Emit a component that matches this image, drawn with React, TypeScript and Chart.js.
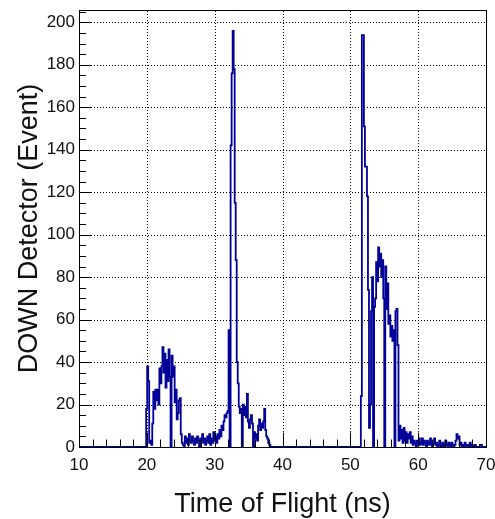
import React, { useEffect, useRef } from "react";
import { Chart, registerables } from "chart.js";

Chart.register(...registerables);

// ---- axis ranges & labels ----
const xMin = 10;
const xMax = 70;
const binWidth = 0.15;
const yMin = 0;
const yMax = 205.8;
const xTicks = [10, 20, 30, 40, 50, 60, 70];
const yTicks = [0, 20, 40, 60, 80, 100, 120, 140, 160, 180, 200];
const xMinorStep = 2;
const yMinorStep = 5;
const xTitle = "Time of Flight (ns)";
const yTitle = "DOWN Detector (Event)";

// ---- histogram contents (counts per 0.15 ns bin), all other bins are empty ----
const earlyStart = 19.9;
const earlyCounts = [
  18, 38, 31, 2, 3, 1, 11, 26, 18, 27,
  22, 27, 20, 37, 30, 38, 47, 35, 44, 28,
  41, 31, 46, 33, 0, 43, 33, 38, 21, 27,
  13, 16, 22, 23, 6, 2, 1, 0, 5, 2,
  4, 1, 6, 3, 2, 5, 3, 1, 4, 2,
  5, 3, 0, 4, 3, 6, 2, 4, 1, 3,
  5, 2, 6, 1, 4, 2, 7, 3, 5, 2,
  6, 4, 8, 5, 10, 8, 12, 15, 14, 16,
  17, 55, 0, 142, 176, 196, 178, 115, 88, 40,
  30, 19, 16, 18, 0, 20, 15, 19, 14, 25,
  12, 9, 13, 15, 11, 0, 7, 4, 6, 3,
  10, 13, 8, 11, 9, 12, 18, 8, 5, 4,
  2, 1,
];

const lateStart = 51.55;
const lateCounts = [
  24, 194, 194, 151, 132, 132, 118, 74, 9, 20,
  64, 80, 0, 66, 70, 87, 78, 94, 85, 91,
  80, 88, 70, 0, 85, 65, 77, 58, 62, 52,
  57, 50, 55, 0, 64, 65, 48, 3, 10, 4,
  8, 2, 9, 3, 7, 2, 6, 4, 7, 2,
  5, 1, 3, 2, 0, 3, 1, 4, 1, 2,
  4, 1, 3, 2, 0, 3, 1, 2, 4, 1,
  0, 2, 4, 1, 2, 0, 1, 3, 0, 1,
  2, 0, 1, 3, 1, 0, 2, 1, 0, 2,
  1, 0, 1, 3, 6, 4, 5, 1, 2, 0,
  1, 0, 2, 1, 0, 1, 0, 2, 0, 1,
  0, 0, 1, 0, 0, 0, 0, 1, 1, 0,
];

const FONT = "'Liberation Sans', Arial, Helvetica, sans-serif";
const LINE_COLOR = "#000099";

function buildHistogram() {
  const nBins = Math.round((xMax - xMin) / binWidth);
  const counts: number[] = new Array(nBins).fill(0);
  const place = (start: number, vals: number[]) => {
    const off = Math.round((start - xMin) / binWidth);
    vals.forEach((v, i) => {
      counts[off + i] = v;
    });
  };
  place(earlyStart, earlyCounts);
  place(lateStart, lateCounts);
  const pts = counts.map((c, i) => ({ x: xMin + i * binWidth, y: c }));
  pts.push({ x: xMax, y: 0 });
  return pts;
}

const rootFramePlugin = {
  id: "rootFrame",
  beforeDatasetsDraw(chart: any) {
    const { ctx, chartArea: a, scales } = chart;
    const xs = scales.x;
    const ys = scales.y;
    ctx.save();
    ctx.strokeStyle = "#000";
    ctx.lineWidth = 1;
    ctx.setLineDash([1, 2]);
    xTicks.forEach((v) => {
      if (v === xMin || v === xMax) return;
      const px = Math.round(xs.getPixelForValue(v)) + 0.5;
      ctx.beginPath();
      ctx.moveTo(px, a.bottom);
      ctx.lineTo(px, a.top);
      ctx.stroke();
    });
    yTicks.forEach((v) => {
      if (v === yMin) return;
      const py = Math.round(ys.getPixelForValue(v)) + 0.5;
      ctx.beginPath();
      ctx.moveTo(a.left, py);
      ctx.lineTo(a.right, py);
      ctx.stroke();
    });
    ctx.restore();
  },
  afterDatasetsDraw(chart: any) {
    const { ctx, chartArea: a, scales } = chart;
    const xs = scales.x;
    const ys = scales.y;
    ctx.save();
    ctx.strokeStyle = "#000";
    ctx.lineWidth = 1;
    ctx.setLineDash([]);
    const L = Math.round(a.left) + 0.5;
    const R = Math.round(a.right) + 0.5;
    const T = Math.round(a.top) + 0.5;
    const B = Math.round(a.bottom) + 0.5;
    ctx.strokeRect(L, T, R - L, B - T);
    ctx.beginPath();
    // x ticks (inward from bottom)
    for (let v = xMin; v <= xMax + 1e-9; v += xMinorStep) {
      const major = xTicks.includes(Math.round(v));
      const px = Math.round(xs.getPixelForValue(v)) + 0.5;
      const len = major ? 15 : 8;
      ctx.moveTo(px, B);
      ctx.lineTo(px, B - len);
    }
    // y ticks (inward from left)
    for (let v = yMin; v <= yMax + 1e-9; v += yMinorStep) {
      const major = yTicks.includes(Math.round(v));
      const py = Math.round(ys.getPixelForValue(v)) + 0.5;
      const len = major ? 12 : 6.5;
      ctx.moveTo(L, py);
      ctx.lineTo(L + len, py);
    }
    ctx.stroke();
    ctx.restore();
  },
};

export default function App() {
  const ref = useRef<HTMLCanvasElement>(null);

  useEffect(() => {
    const canvas = ref.current;
    if (!canvas) return;
    const chart = new Chart(canvas, {
      type: "line",
      data: {
        datasets: [
          {
            data: buildHistogram(),
            stepped: true,
            borderColor: LINE_COLOR,
            borderWidth: 1.8,
            pointRadius: 0,
            fill: false,
            tension: 0,
          },
        ],
      },
      options: {
        responsive: false,
        animation: false,
        layout: { padding: { top: 10, right: 9, left: 0, bottom: 0 } },
        plugins: {
          legend: { display: false },
          tooltip: { enabled: false },
        },
        scales: {
          x: {
            type: "linear",
            min: xMin,
            max: xMax,
            grid: { display: false, drawTicks: false },
            border: { display: false },
            ticks: {
              autoSkip: false,
              maxRotation: 0,
              minRotation: 0,
              padding: 8,
              color: "#111",
              font: { family: FONT, size: 17 },
            },
            afterBuildTicks: (s: any) => {
              s.ticks = xTicks.map((v) => ({ value: v }));
            },
            afterFit: (s: any) => {
              s.height = 72;
              s.paddingLeft = 0;
              s.paddingRight = 0;
            },
            title: {
              display: true,
              text: xTitle,
              color: "#111",
              font: { family: FONT, size: 27, lineHeight: 1 },
              padding: { top: 0, bottom: 1 },
            },
          },
          y: {
            type: "linear",
            min: yMin,
            max: yMax,
            grid: { display: false, drawTicks: false },
            border: { display: false },
            ticks: {
              autoSkip: false,
              padding: 4,
              color: "#111",
              font: { family: FONT, size: 17 },
            },
            afterBuildTicks: (s: any) => {
              s.ticks = yTicks.map((v) => ({ value: v }));
            },
            afterFit: (s: any) => {
              s.width = 79;
              s.paddingTop = 0;
              s.paddingBottom = 0;
            },
            title: {
              display: true,
              text: yTitle,
              color: "#111",
              font: { family: FONT, size: 27, lineHeight: 1 },
              padding: { top: 16, bottom: 0 },
            },
          },
        },
      },
      plugins: [rootFramePlugin],
    } as any);
    return () => chart.destroy();
  }, []);

  return (
    <div
      style={{
        position: "fixed",
        left: 0,
        top: 0,
        width: 495,
        height: 519,
        background: "#fff",
      }}
    >
      <canvas
        ref={ref}
        width={495}
        height={519}
        style={{ display: "block", width: "495px", height: "519px" }}
      />
    </div>
  );
}
